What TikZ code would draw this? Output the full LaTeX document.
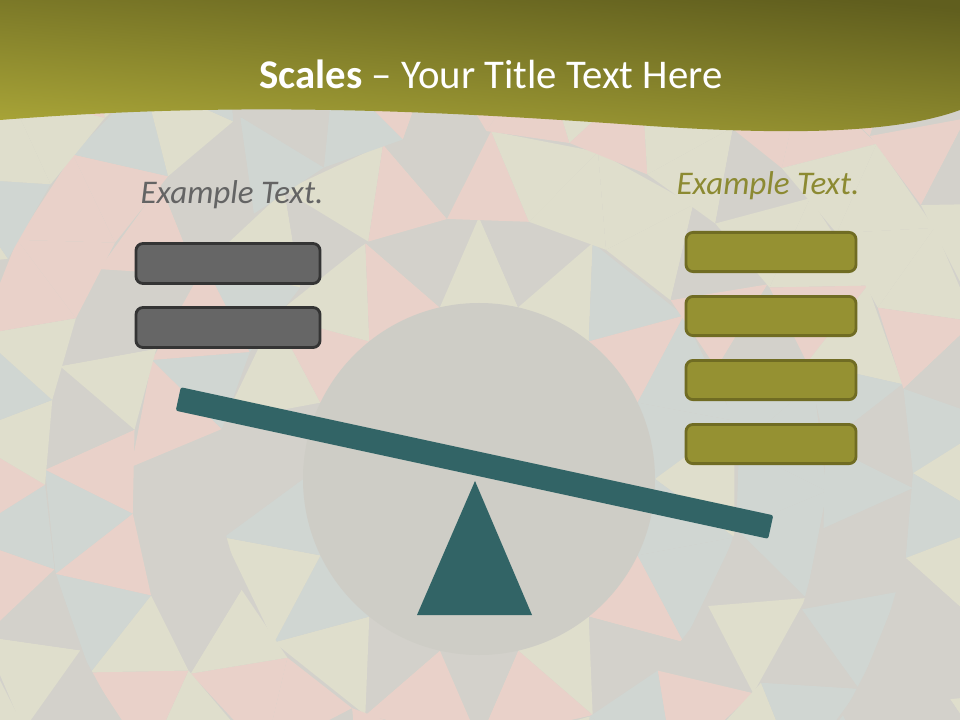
\documentclass[tikz,border=0pt]{standalone}
\usepackage{fontspec}
\setmainfont{Carlito}
\usepackage{xcolor}
\usepackage{tikz}
\usetikzlibrary{positioning, calc}
\definecolor{bannerdark}{RGB}{96, 94, 30}
\definecolor{bannerlight}{RGB}{170, 166, 56}
\definecolor{tilepink}{RGB}{233, 209, 201}
\definecolor{tilegray}{RGB}{211, 209, 203}
\definecolor{tilecream}{RGB}{223, 222, 204}
\definecolor{tileblue}{RGB}{208, 214, 210}
\definecolor{hubgray}{RGB}{206, 205, 198}
\definecolor{beamteal}{RGB}{50, 100, 102}
\definecolor{boxgray}{RGB}{102, 102, 102}
\definecolor{boxgrayrim}{RGB}{52, 52, 52}
\definecolor{boxolive}{RGB}{149, 145, 50}
\definecolor{boxoliverim}{RGB}{112, 108, 35}
\definecolor{textgray}{RGB}{100, 100, 100}
\definecolor{textolive}{RGB}{140, 138, 50}
\colorlet{tile0}{tilepink}
\colorlet{tile1}{tilegray}
\colorlet{tile2}{tilecream}
\colorlet{tile3}{tileblue}
\tikzset{
    weight/.style  ={line width=2pt, rounded corners=5pt, inner sep=0pt, outer sep=0pt},
    greyweight/.style ={weight, draw=boxgrayrim, fill=boxgray,
                   minimum width=4.6cm, minimum height=1.0cm},
    oliveweight/.style={weight, draw=boxoliverim, fill=boxolive,
                   minimum width=4.25cm, minimum height=0.98cm},
    side/.style   ={font=\fontsize{23.5}{27}\selectfont\itshape, inner sep=0pt},
    plank/.style  ={fill=beamteal, minimum width=15.15cm, minimum height=0.6cm,
                   rounded corners=1.5pt, inner sep=0pt}
}

\begin{document}
\begin{tikzpicture}[x=0.025cm, y=-0.025cm]
  \useasboundingbox (0,0) rectangle (960,720);

  % tiled background, rings of triangles
  \begin{scope}
    \clip (0,0) rectangle (960,720);
    \fill[tilegray] (0,0) rectangle (960,720);
    \foreach \k/\rin/\rout/\n in {0/176/262/14, 1/262/348/20, 2/348/434/26,
                                  3/434/520/32, 4/520/606/38, 5/606/700/44} {
      \foreach \i in {1,...,\n} {
        \pgfmathsetmacro\wd{360/\n}
        \pgfmathsetmacro\aa{\i*\wd + \k*11}
        \pgfmathtruncatemacro\cu{mod(\i*7 + \k*5 + mod(\i*\i,5), 4)}
        \pgfmathtruncatemacro\cd{mod(\i*3 + \k*7 + mod(mod(\i*\i,7)*\i,7) + 1, 4)}
        \fill[tile\cu] ([shift={(\aa:\rin)}]479,479) -- ([shift={(\aa+\wd:\rin)}]479,479)
              -- ([shift={(\aa+0.5*\wd:\rout)}]479,479) -- cycle;
        \fill[tile\cd] ([shift={(\aa+0.5*\wd:\rout)}]479,479) -- ([shift={(\aa+1.5*\wd:\rout)}]479,479)
              -- ([shift={(\aa+\wd:\rin)}]479,479) -- cycle;
      }
    }
  \end{scope}

  % title banner
  \shade[shading=axis, top color=bannerdark, bottom color=bannerlight, shading angle=-5]
        (0,0) -- (960,0) -- (960,110) .. controls (900,132) and (800,136) .. (650,126)
        .. controls (450,112) and (250,100) .. (0,120) -- cycle;
  \node[text=white, font=\fontsize{29}{34}\selectfont] (title) at (491,74)
        {\textbf{Scales} -- Your Title Text Here};

  \fill[hubgray] (479,479) circle[radius=176];

  % left pan
  \node[side, text=textgray] (lefttxt) at (232,195) {Example Text.};
  \node[greyweight] (l1) at (228,263.5) {};
  \node[greyweight, below=0.6cm of l1] (l2) {};

  % right pan
  \node[side, text=textolive] (righttxt) at (768,186) {Example Text.};
  \node[oliveweight] (r1) at (771,252) {};
  \node[oliveweight, below=0.62cm of r1] (r2) {};
  \node[oliveweight, below=0.62cm of r2] (r3) {};
  \node[oliveweight, below=0.62cm of r3] (r4) {};

  % seesaw
  \coordinate (pivot) at (475,481);
  \coordinate (footl) at (417,615);
  \coordinate (footr) at (532,615);
  \fill[beamteal] (pivot) -- (footr) -- (footl) -- cycle;
  \node[plank, rotate=-12.2] (beam) at (474.5,463) {};
\end{tikzpicture}
\end{document}
